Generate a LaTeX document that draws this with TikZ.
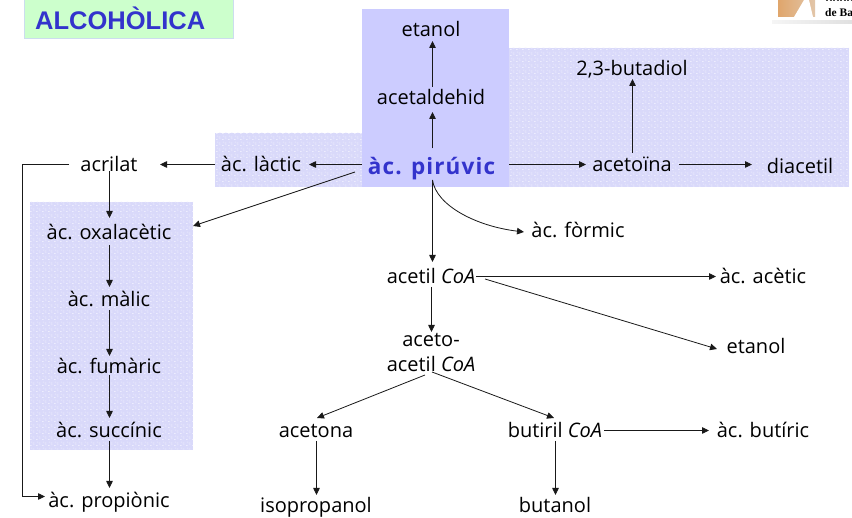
\documentclass[tikz,border=0pt]{standalone}
\usepackage{fontspec}
\setmainfont{Open Sans}
\newfontfamily\titlefont{Liberation Sans}
\newfontfamily\logofont{Liberation Serif}
\usetikzlibrary{arrows.meta,calc,patterns}
\definecolor{mainbox}{HTML}{CCCCFF}
\definecolor{texbox}{HTML}{D9D9FA}
\definecolor{texdot}{HTML}{EDEDFE}
\definecolor{titlefill}{HTML}{CCFFCC}
\definecolor{titleedge}{HTML}{CCDDEE}
\definecolor{titleblue}{HTML}{3333CC}
\pgfdeclarepatternformonly{weavetex}{\pgfqpoint{0pt}{0pt}}{\pgfqpoint{6pt}{6pt}}{\pgfqpoint{6pt}{6pt}}{
  \pgfpathrectangle{\pgfqpoint{0pt}{0pt}}{\pgfqpoint{2pt}{1pt}}
  \pgfpathrectangle{\pgfqpoint{3pt}{3pt}}{\pgfqpoint{2pt}{1pt}}
  \pgfpathrectangle{\pgfqpoint{1pt}{4pt}}{\pgfqpoint{1pt}{1pt}}
  \pgfpathrectangle{\pgfqpoint{4pt}{1pt}}{\pgfqpoint{1pt}{1pt}}
  \pgfusepath{fill}
}
\tikzset{
  lbl/.style={inner sep=0pt,font=\fontsize{20}{25}\selectfont,text=black,align=center,text height=16pt,text depth=1pt},
  lbltwo/.style={inner sep=0pt,font=\fontsize{20}{25}\selectfont,text=black,align=center},
  arr/.style={-{Triangle[length=7pt,width=6.5pt]},line width=0.8pt,draw=black!90},
  texture/.style={fill=texbox,postaction={pattern=weavetex,pattern color=texdot}},
}
\begin{document}
\begin{tikzpicture}[x=1pt,y=-1pt]
\useasboundingbox (0,0) rectangle (852,518);
% background panels
\fill[white] (0,0) rectangle (852,518);
\path[texture] (509,48) rectangle (849,187);
\path[texture] (215,133) rectangle (362,187);
\path[texture] (30,202) rectangle (193,450);
\fill[mainbox] (362,9) rectangle (509,187);
\draw[fill=titlefill,draw=titleedge,line width=0.8pt] (24,-2) rectangle (233,38);
\node[font=\titlefont\bfseries\fontsize{25.5}{28}\selectfont,text=titleblue,anchor=west,inner sep=0pt] (title) at (35,18) {ALCOHÒLICA};
% logo fragment
\begin{scope}
\clip (770,0) rectangle (852,24);
\fill[left color=brown!70!orange!70,right color=brown!45!white] (778,0) rectangle (815,17);
\fill[white] (794,17) -- (804,0) -- (809,0) -- (813,17) -- cycle;
\fill[left color=black!4,right color=black!12] (772,21) rectangle (852,23.5);
\draw[black!70,line width=1pt,dash pattern=on 2pt off 1.5pt] (826,1) -- (852,1);
\node[font=\logofont\bfseries\fontsize{11.5}{13}\selectfont,anchor=west,inner sep=0pt] (logotext) at (825,12.5) {de Ba};
\end{scope}
% labels
\node[lbl] (etanolA) at (431,29) {etanol};
\node[lbl] (ald) at (431,97) {acetaldehid};
\node[lbl,font=\bfseries\fontsize{22.5}{26}\selectfont,text=titleblue,text height=20pt] (pyr) at (431.5,165.5) {\addfontfeatures{LetterSpace=5}àc. pirúvic};
\node[lbl] (but23) at (632,68) {2,3-butadiol};
\node[lbl] (acetoina) at (632,164) {acetoïna};
\node[lbl] (diacetil) at (800,166) {diacetil};
\node[lbl] (lactic) at (261,164) {àc. làctic};
\node[lbl] (acrilat) at (109,164) {acrilat};
\node[lbl] (oxal) at (109,232) {àc. oxalacètic};
\node[lbl] (malic) at (109,299) {àc. màlic};
\node[lbl] (fumaric) at (109,366) {àc. fumàric};
\node[lbl] (succinic) at (109,430) {àc. succínic};
\node[lbl] (propionic) at (109,500) {àc. propiònic};
\node[lbl] (formic) at (578,230) {àc. fòrmic};
\node[lbl] (acetil) at (431,276) {acetil \textit{CoA}};
\node[lbltwo] (acetoacetil) at (431,353) {aceto-\\acetil \textit{CoA}};
\node[lbl] (acetic) at (763,276) {àc. acètic};
\node[lbl] (etanolB) at (756,346) {etanol};
\node[lbl] (acetona) at (316,430) {acetona};
\node[lbl] (isoprop) at (316,505.5) {isopropanol};
\node[lbl] (butiril) at (555,430) {butiril \textit{CoA}};
\node[lbl] (butiric) at (763,430) {àc. butíric};
\node[lbl] (butanol) at (555,505.5) {butanol};
% connectors
\draw[arr] ($(pyr)+(1,-17)$) -- ($(ald)+(1.5,15)$);
\draw[arr] ($(ald)+(1.5,-10)$) -- ($(etanolA)+(1.5,12)$);
\draw[arr] ($(pyr)+(-69.5,-1)$) -- ($(lactic)+(48,0.5)$);
\draw[arr] ($(lactic)+(-46,0.5)$) -- ($(acrilat)+(51,0.5)$);
\draw[arr] ($(acrilat)+(0.5,7)$) -- ($(oxal)+(0.5,-14)$);
\draw[arr] ($(pyr)+(-76.5,6.5)$) -- ($(oxal)+(84,-6)$);
\draw[arr] ($(oxal)+(0.5,13)$) -- ($(malic)+(0.5,-12)$);
\draw[arr] ($(malic)+(0.5,11)$) -- ($(fumaric)+(0.5,-10)$);
\draw[arr] ($(fumaric)+(0.5,9)$) -- ($(succinic)+(0.5,-12)$);
\draw[arr] ($(succinic)+(0.5,11)$) -- ($(propionic)+(0.5,-12)$);
\draw[arr] ($(acrilat)+(-40,0.5)$) -- (22.5,164.5) -- (22.5,496.5) -- ($(propionic)+(-64,-3.5)$);
\draw[arr] ($(pyr)+(77.5,-1)$) -- ($(acetoina)+(-46,0.5)$);
\draw[arr] ($(acetoina)+(47,0.5)$) -- ($(diacetil)+(-48,-1.5)$);
\draw[arr] ($(acetoina)+(0.5,-11)$) -- ($(but23)+(0.5,11)$);
\draw[arr] ($(pyr)+(1,14.5)$) .. controls (436,205) and (475,226) .. ($(formic)+(-54,2)$);
\draw[arr] ($(pyr)+(1,14.5)$) -- ($(acetil)+(1.5,-14)$);
\draw[arr] ($(acetil)+(45,0.5)$) -- ($(acetic)+(-47,0.5)$);
\draw[arr] ($(acetil)+(54,3)$) -- ($(etanolB)+(-39,3)$);
\draw[arr] ($(acetil)+(0.5,11)$) -- ($(acetoacetil)+(0.5,-21)$);
\draw[arr] ($(acetoacetil)+(-6,22)$) -- ($(acetona)+(1,-12)$);
\draw[arr] ($(acetoacetil)+(1,19)$) -- ($(butiril)+(-1,-12)$);
\draw[arr] ($(acetona)+(0.5,11)$) -- ($(isoprop)+(0.5,-10.5)$);
\draw[arr] ($(butiril)+(0.5,11)$) -- ($(butanol)+(0.5,-10.5)$);
\draw[arr] ($(butiril)+(49,0.5)$) -- ($(butiric)+(-54,0.5)$);
\end{tikzpicture}
\end{document}
